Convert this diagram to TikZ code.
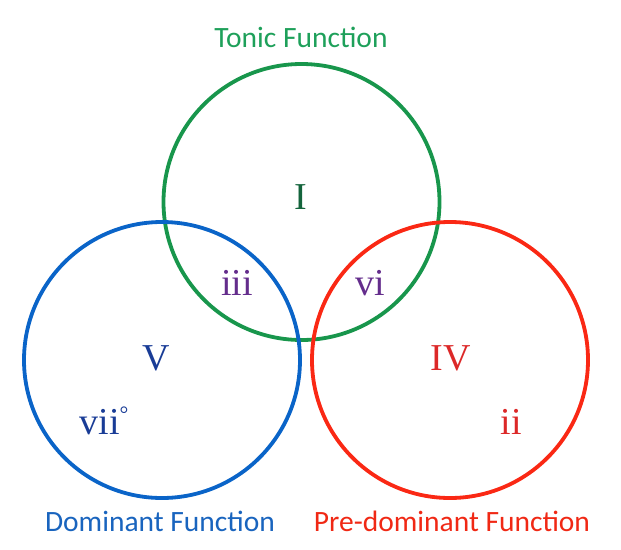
\documentclass[tikz,border=0pt]{standalone}
\usepackage{fontspec}
\setmainfont{Liberation Serif}
\newfontfamily\labelfont{Carlito}
\definecolor{tonicc}{RGB}{24,150,76}
\definecolor{tonict}{RGB}{30,160,90}
\definecolor{tonicd}{RGB}{20,100,60}
\definecolor{domc}{RGB}{10,100,200}
\definecolor{domt}{RGB}{25,100,190}
\definecolor{domd}{RGB}{25,60,150}
\definecolor{prec}{RGB}{250,40,20}
\definecolor{pret}{RGB}{240,40,20}
\definecolor{pred}{RGB}{220,40,40}
\definecolor{mixc}{RGB}{100,45,140}
\begin{document}
\begin{tikzpicture}[x=1pt,y=-1pt,
  ring/.style={circle,draw,line width=3.8pt,minimum size=276pt,inner sep=0pt},
  fname/.style={anchor=base,font=\labelfont\fontsize{29.5}{32}\selectfont,inner sep=0pt},
  chord/.style={anchor=base,font=\fontsize{38}{40}\selectfont,inner sep=0pt}]
\useasboundingbox (0,0) rectangle (621,549);
\node[ring,draw=tonicc] (tonic) at (301.5,202) {};
\node[ring,draw=domc] (dom) at (162,360) {};
\node[ring,draw=prec] (pre) at (450,360) {};
\node[fname,text=tonict] (tl) at (301,47) {Tonic Function};
\node[fname,text=domt] (dl) at (160,531) {Dominant Function};
\node[fname,text=pret] (pl) at (452,531) {Pre-dominant Function};
\node[chord,text=tonicd] (one) at (300.5,209) {I};
\node[chord,text=mixc] (three) at (237,295) {iii};
\node[chord,text=mixc] (six) at (370,295) {vi};
\node[chord,text=domd] (five) at (156,370) {V};
\node[chord,text=pred] (four) at (451,370) {IV};
\node[chord,text=domd] (seven) at (104,434) {vii\raisebox{13pt}{\fontsize{22}{24}\selectfont °}};
\node[chord,text=pred] (two) at (511,434) {ii};
\end{tikzpicture}
\end{document}
